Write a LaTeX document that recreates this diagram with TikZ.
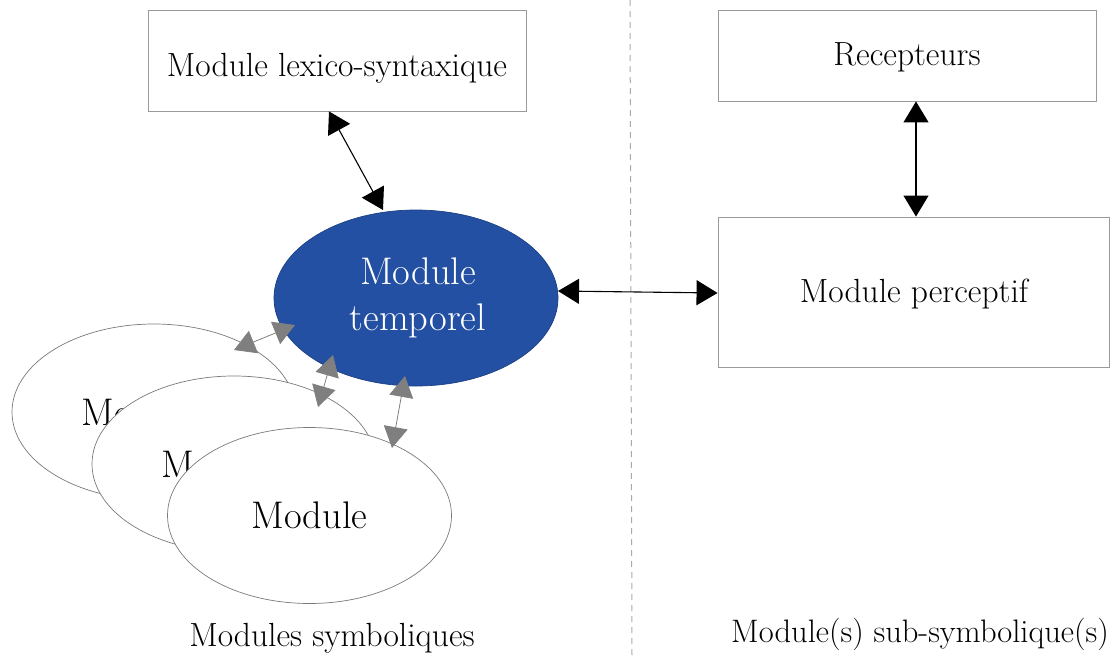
\documentclass[tikz,border=0pt]{standalone}
\usetikzlibrary{arrows.meta,calc,shapes.geometric}
\definecolor{tblue}{HTML}{2350A3}
\definecolor{boxgray}{HTML}{9A9A9A}
\definecolor{ellgray}{HTML}{7A7A7A}
\definecolor{arrgray}{HTML}{7F7F7F}
\definecolor{dashgray}{HTML}{AAAAAA}
\begin{document}
\begin{tikzpicture}[x=1pt,y=-1pt,
  txt/.style={font=\fontsize{33.5}{40}\selectfont, inner sep=0pt},
  bigtxt/.style={font=\fontsize{38.5}{46}\selectfont, inner sep=0pt},
  modbox/.style={draw=boxgray, line width=0.9pt, fill=white, inner sep=0pt},
  modell/.style={ellipse, draw=ellgray, line width=0.7pt, fill=white, minimum width=284pt, minimum height=176pt, inner sep=0pt},
  barrow/.style={line width=1.1pt, black, {Triangle[length=21pt,width=25pt]}-{Triangle[length=21pt,width=25pt]}},
  garrow/.style={line width=0.8pt, arrgray, {Triangle[length=21pt,width=24pt]}-{Triangle[length=21pt,width=24pt]}}]
\useasboundingbox (0,0) rectangle (1112,656);
% divider
\draw[dashgray, line width=1pt, dash pattern=on 6pt off 5pt] (630,0) coordinate (dtop) -- (632,656) coordinate (dbot);
% boxes
\node[modbox, minimum width=378pt, minimum height=101pt] (lex) at (337,60.5) {};
\node[txt] (lext) at (337,68) {Module lexico-syntaxique};
\node[modbox, minimum width=378pt, minimum height=91pt] (rec) at (907,55.5) {};
\node[txt] (rect) at (907,57) {Recepteurs};
\node[modbox, minimum width=391pt, minimum height=150pt] (perc) at (913.5,292) {};
\node[txt] (perct) at (914,294) {Module perceptif};
% temporel
\node[modell, fill=tblue, draw=tblue!80!black] (temp) at (416,298) {};
\node[bigtxt, text=white, align=center] (tempt) at (418,298) {Module\\temporel};
% stacked modules
\node[modell] (m1) at (154,412) {};
\node[bigtxt] (m1t) at (139.5,412) {Module};
\node[modell] (m2) at (234,464) {};
\node[bigtxt] (m2t) at (219.5,464) {Module};
\node[modell] (m3) at (309.5,515.5) {};
\node[bigtxt] (m3t) at (309.5,515.5) {Module};
% gray arrows
\draw[garrow] ($(m1.center)+(80,-62)$) -- ($(temp.center)+(-121,27)$);
\draw[garrow] ($(m2.center)+(84,-57)$) -- ($(temp.center)+(-83,57)$);
\draw[garrow] ($(m3.center)+(82.5,-67.5)$) -- ($(temp.center)+(-11,78)$);
% black arrows
\draw[barrow] ($(lex.south)+(-8,0)$) -- ($(temp.center)+(-33,-88)$);
\draw[barrow] ($(rec.south)+(9,0)$) -- ($(perc.north)+(2.5,0)$);
\draw[barrow] ($(temp.center)+(142,-7)$) -- ($(perc.west)+(0,1)$);
% labels
\node[txt, anchor=base] (lsym) at (332,646) {Modules symboliques};
\node[txt, font=\fontsize{32.5}{39}\selectfont, anchor=base] (lsub) at (920,642) {Module(s) sub-symbolique(s)};
\end{tikzpicture}
\end{document}
